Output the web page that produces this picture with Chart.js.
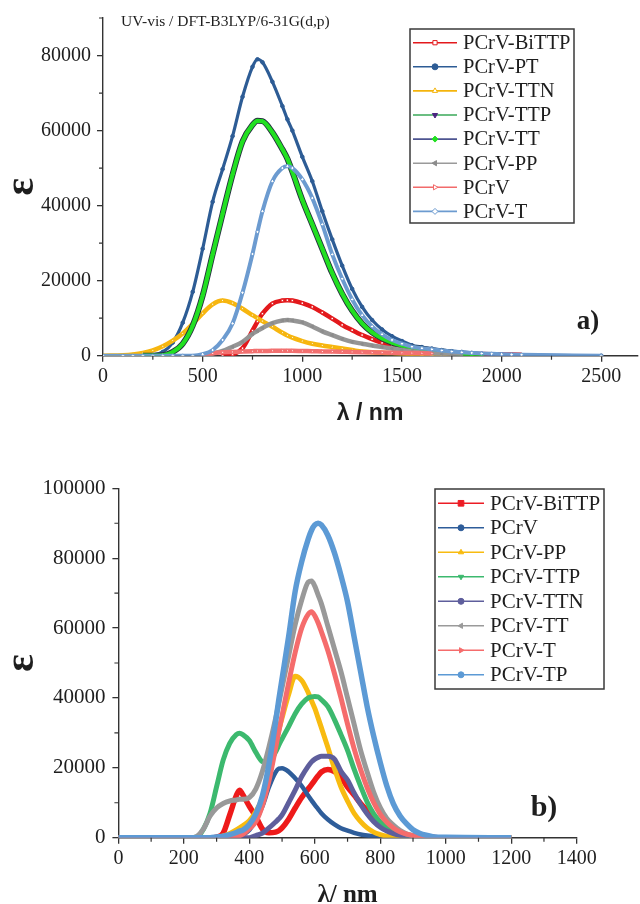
<!DOCTYPE html>
<html>
<head>
<meta charset="utf-8">
<title>UV-vis spectra</title>
<script src="https://cdn.jsdelivr.net/npm/chart.js@4.4.1/dist/chart.umd.min.js"></script>
<style>
    html, body { margin: 0; padding: 0; background: #fff; }
    .panel { position: absolute; left: 0; width: 640px; }
    #panel-a { top: 0; height: 440px; }
    #panel-b { top: 440px; height: 464px; }
</style>
</head>
<body>
<div class="panel" id="panel-a"><canvas id="chart-a" width="640" height="440"></canvas></div>
<div class="panel" id="panel-b"><canvas id="chart-b" width="640" height="464"></canvas></div>
<script>
// panel a) values, wavelength in nm, epsilon
var wavelengthA = [0, 100, 150, 200, 250, 300, 350, 400, 450, 500, 550, 600, 650, 700, 750, 775, 800, 850, 900, 925, 950, 1000, 1050, 1100, 1150, 1200, 1250, 1300, 1350, 1400, 1450, 1500, 1550, 1600, 1650, 1700, 1750, 1800, 1850, 1900, 1950, 2000, 2050, 2100, 2500];
var namesA = ['PCrV-BiTTP', 'PCrV-PT', 'PCrV-TTN', 'PCrV-TTP', 'PCrV-TT', 'PCrV-PP', 'PCrV', 'PCrV-T'];
var bittpA = [null, null, null, null, null, null, null, null, null, null, null, 0, 300, 2000, 6700, 9100, 11200, 13900, 14700, 14800, 14700, 14000, 13000, 11500, 9900, 8200, 6800, 5500, 4400, 3400, 2600, 2000, 1500, 1200, 1000, 850, 700, 600, 500, 450, 400, 350, 300, 250, null];
var ptA = [0, 0, 0, 0, 200, 1000, 3500, 8800, 17000, 28500, 41000, 49700, 58500, 69000, 77000, 79000, 78200, 73000, 66500, 63000, 60000, 53000, 46500, 38500, 31000, 24000, 17800, 13000, 9500, 7000, 5200, 3900, 2800, 2300, 1900, 1500, 1200, 1000, 750, 550, 400, 300, 200, 150, 0];
var ttnA = [0, 100, 300, 700, 1400, 2500, 4000, 5900, 8500, 11300, 13700, 14700, 14000, 12500, 10800, 10000, 9200, 7700, 6100, 5400, 4800, 3900, 3200, 2700, 2300, 1900, 1500, 1100, 900, 800, 700, 600, 450, 350, 250, 100, 0, null, null, null, null, null, null, null, null];
var ttpA = [null, null, null, 0, 0, 100, 1000, 3200, 8000, 16000, 27000, 37800, 48300, 57100, 61500, 62600, 62500, 59500, 55000, 52500, 49000, 41500, 35000, 28500, 22000, 16500, 12000, 8600, 6200, 4600, 3500, 2700, 2200, 1800, 1400, 1100, 800, 500, 200, 0, null, null, null, null, null];
var ttA = [null, null, null, 0, 0, 100, 1000, 3200, 8000, 16000, 27000, 37800, 48300, 57100, 61500, 62600, 62500, 59500, 55000, 52500, 49000, 41500, 35000, 28500, 22000, 16500, 12000, 8600, 6200, 4600, 3500, 2700, 2200, 1800, 1400, 1100, 800, 500, 200, 0, null, null, null, null, null];
var ppA = [null, null, null, null, null, null, null, null, null, 0, 600, 1300, 2400, 3700, 5800, 6600, 7400, 8700, 9400, 9500, 9400, 8900, 7800, 6500, 5500, 4500, 3700, 3200, 2700, 2300, 1900, 1500, 1100, 850, 650, 400, 200, 0, null, null, null, null, null, null, null];
var pcrvA = [null, null, null, null, null, null, null, null, null, 0, 600, 900, 1000, 1100, 1200, 1250, 1250, 1300, 1300, 1300, 1300, 1250, 1200, 1150, 1100, 1050, 1000, 950, 900, 850, 800, 750, 700, 650, 600, null, null, null, null, null, null, null, null, null, null];
var tA = [0, 0, 0, 0, 0, 0, 0, 0, 0, 400, 1500, 4200, 8600, 16800, 27100, 33000, 38500, 46500, 50000, 50500, 50000, 47000, 42000, 35000, 27000, 20500, 15000, 10800, 7800, 5700, 4200, 3200, 2400, 2000, 1700, 1400, 1100, 900, 750, 600, 500, 400, 300, 250, 0];
var xTicksA = [0, 500, 1000, 1500, 2000, 2500];
var xMinorA = [250, 750, 1250, 1750, 2250];
var yTicksA = [0, 20000, 40000, 60000, 80000];
var yMinorA = [10000, 30000, 50000, 70000, 90000];

// panel b)
var wavelengthB = [0, 200, 220, 240, 260, 280, 300, 320, 340, 360, 370, 380, 400, 420, 440, 460, 480, 490, 500, 520, 540, 560, 580, 590, 600, 610, 620, 640, 660, 680, 700, 720, 740, 760, 780, 800, 820, 840, 860, 880, 900, 920, 940, 960, 980, 1000, 1200];
var namesB = ['PCrV-BiTTP', 'PCrV', 'PCrV-PP', 'PCrV-TTP', 'PCrV-TTN', 'PCrV-TT', 'PCrV-T', 'PCrV-TP'];
var bittpB = [0, 0, 0, 0, 0, 0, 200, 1300, 6500, 12000, 13600, 12300, 9000, 6000, 2500, 1400, 1600, 2000, 2800, 5300, 8500, 11500, 14000, 15200, 16500, 17700, 18800, 19500, 18900, 17300, 14500, 12200, 9800, 7800, 5900, 4200, 2700, 1800, 1100, 700, 500, 300, 200, 100, 0, 0, 0];
var pcrvB = [0, 0, 0, 0, 0, 0, 0, 0, 0, 300, 500, 800, 2200, 5000, 9000, 14500, 18700, 19800, 19900, 18900, 17000, 14800, 12000, 10700, 9400, 8200, 7000, 5200, 3800, 2700, 2000, 1400, 900, 600, 400, 200, 100, 0, 0, 0, 0, 0, 0, 0, 0, 0, 0];
var ppB = [0, 0, 0, 0, 0, 0, 0, 500, 1200, 2200, 2800, 3400, 4900, 7500, 11500, 19000, 27000, 30800, 34300, 41000, 46200, 45000, 41500, 39200, 37000, 34300, 31500, 25800, 19800, 14500, 10500, 7000, 4600, 2800, 1600, 900, 400, 200, 100, 0, 0, 0, 0, 0, 0, 0, 0];
var ttpB = [0, 0, 0, 200, 2500, 7000, 14600, 22200, 27000, 29500, 29900, 29500, 27800, 24400, 21800, 21600, 24500, 26500, 28300, 31800, 35500, 38300, 40000, 40300, 40400, 40300, 39500, 37500, 33800, 29500, 25000, 19600, 14700, 10200, 6800, 4500, 2700, 1600, 1000, 600, 300, 100, 0, 0, 0, 0, 0];
var ttnB = [0, 0, 0, 0, 0, 0, 0, 0, 0, 0, 0, 0, 0, 600, 1300, 2800, 4500, 5400, 6500, 10000, 13600, 17500, 20500, 21700, 22500, 23000, 23300, 23300, 22500, 19000, 16500, 12800, 9500, 6800, 4600, 3000, 1900, 1200, 700, 400, 200, 0, 0, 0, 0, 0, 0];
var ttB = [0, 0, 0, 400, 2500, 6200, 8500, 9800, 10500, 10800, 11000, 11000, 11500, 14000, 19000, 26000, 34000, 38500, 43000, 52000, 61000, 68000, 73200, 73500, 72000, 69500, 67000, 60500, 54000, 47500, 40000, 32500, 25000, 18800, 13000, 8600, 5500, 3600, 2100, 1100, 600, 300, 100, 0, 0, 0, 0];
var tB = [0, 0, 0, 0, 0, 0, 0, 0, 0, 300, 600, 1000, 2600, 4600, 9200, 16300, 25600, 30400, 35000, 44300, 53000, 60000, 64000, 64700, 63500, 61500, 59000, 53500, 47000, 40000, 32500, 25500, 19500, 14300, 10000, 6700, 4400, 2800, 1700, 1000, 600, 300, 100, 0, 0, 0, 0];
var tpB = [0, 0, 0, 0, 0, 0, 200, 400, 900, 1500, 1900, 2200, 3800, 6800, 12000, 21000, 33000, 39500, 45500, 57500, 70500, 79000, 85500, 88000, 89500, 90000, 89500, 86500, 81500, 75000, 67500, 57500, 47500, 37500, 29000, 21500, 14800, 9700, 6300, 4000, 2300, 1300, 700, 300, 150, 100, 0];
var xTicksB = [0, 200, 400, 600, 800, 1000, 1200, 1400];
var xMinorB = [100, 300, 500, 700, 900, 1100, 1300];
var yTicksB = [0, 20000, 40000, 60000, 80000, 100000];
var yMinorB = [10000, 30000, 50000, 70000, 90000];

(function () {
    'use strict';

    var AXIS = '#333',
        TEXT = '#1e1e1e',
        SERIF = "'Liberation Serif', 'Times New Roman', serif",
        SANS = "'Liberation Sans', Arial, sans-serif",

        // line colour, colour in the plot, marker shape/colour
        stylesA = [
            { line: '#e3191c', plot: '#e3191c', marker: 'rect', mColor: '#e3191c', hollow: true, width: 4.5 },
            { line: '#2d5c95', plot: '#2d5c95', marker: 'circle', mColor: '#2d5c95', width: 3.2 },
            { line: '#f4b40c', plot: '#f7b60f', marker: 'triangle', mColor: '#f4b40c', hollow: true, width: 4.5 },
            { line: '#3aa859', plot: '#25303f', marker: 'triangle', rot: 180, mColor: '#4a2580', width: 6 },
            { line: '#4d5491', plot: '#22e022', marker: 'rectRot', mColor: '#22e022', width: 4.2 },
            { line: '#9a9a9a', plot: '#959595', marker: 'triangle', rot: 270, mColor: '#8c8c8c', width: 4.5 },
            { line: '#f26b6b', plot: '#f27070', marker: 'triangle', rot: 90, mColor: '#f26b6b', hollow: true, width: 4.5 },
            { line: '#6c9bd0', plot: '#6c9bd0', marker: 'rectRot', mColor: '#6c9bd0', hollow: true, width: 4 }
        ],
        stylesB = [
            { line: '#ec1c24', plot: '#ee1a1a', marker: 'rect', mColor: '#ec1c24', width: 5.5, size: 4 },
            { line: '#2e5d9a', plot: '#2e5d9a', marker: 'circle', mColor: '#2e5d9a', width: 4.5 },
            { line: '#f8bb10', plot: '#f8bb10', marker: 'triangle', mColor: '#f8bb10', width: 5 },
            { line: '#3cb96e', plot: '#3cb96e', marker: 'triangle', rot: 180, mColor: '#3cb96e', width: 5 },
            { line: '#5e5e9c', plot: '#5e5e9c', marker: 'circle', mColor: '#5e5e9c', width: 5 },
            { line: '#9a9a9a', plot: '#999999', marker: 'triangle', rot: 270, mColor: '#9a9a9a', width: 5 },
            { line: '#f56c6c', plot: '#f56c6c', marker: 'triangle', rot: 90, mColor: '#f56c6c', width: 5 },
            { line: '#5c9ad5', plot: '#5c9ad5', marker: 'circle', mColor: '#5c9ad5', width: 5.5 }
        ],

        toPoints = function (xs, ys) {
            return xs.map(function (x, i) {
                return { x: x, y: ys[i] };
            });
        },

        buildDatasets = function (xs, names, values, styles, pointRadius) {
            return names.map(function (name, i) {
                var st = styles[i];

                return {
                    label: name,
                    data: toPoints(xs, values[i]),
                    borderColor: st.plot,
                    backgroundColor: st.plot,
                    borderWidth: st.width,
                    pointStyle: st.marker,
                    pointRotation: st.rot || 0,
                    pointRadius: pointRadius,
                    pointHoverRadius: pointRadius,
                    pointBackgroundColor: st.hollow ? '#fff' : st.mColor,
                    pointBorderColor: st.mColor,
                    pointBorderWidth: 1,
                    cubicInterpolationMode: 'monotone',
                    fill: false,
                    spanGaps: false,
                    // later series sit on top, like the original plot
                    order: names.length - i,
                    legendLine: st.line,
                    legendSize: st.size || 3
                };
            });
        },

        drawMarker = function (ctx, style, radius, rotation, x, y) {
            if (Chart.helpers && Chart.helpers.drawPoint) {
                Chart.helpers.drawPoint(ctx, { pointStyle: style, radius: radius, rotation: rotation, borderWidth: 1 }, x, y);
                return;
            }
            ctx.beginPath();
            ctx.arc(x, y, radius, 0, Math.PI * 2);
            ctx.fill();
            ctx.stroke();
        },

        boxLegend = function (cfg) {
            return {
                id: 'boxLegend',
                afterDraw: function (chart) {
                    var ctx = chart.ctx,
                        mid = (cfg.lineFrom + cfg.lineTo) / 2;

                    ctx.save();
                    ctx.fillStyle = '#fff';
                    ctx.fillRect(cfg.left, cfg.top, cfg.right - cfg.left, cfg.bottom - cfg.top);
                    ctx.strokeStyle = '#3a3a3a';
                    ctx.lineWidth = 1.5;
                    ctx.strokeRect(cfg.left, cfg.top, cfg.right - cfg.left, cfg.bottom - cfg.top);

                    chart.data.datasets.forEach(function (ds, i) {
                        var y = cfg.firstRow + i * cfg.rowStep;

                        ctx.strokeStyle = ds.legendLine;
                        ctx.lineWidth = 1.6;
                        ctx.beginPath();
                        ctx.moveTo(cfg.lineFrom, y);
                        ctx.lineTo(cfg.lineTo, y);
                        ctx.stroke();

                        ctx.fillStyle = ds.pointBackgroundColor;
                        ctx.strokeStyle = ds.pointBorderColor;
                        ctx.lineWidth = 1;
                        drawMarker(ctx, ds.pointStyle, ds.legendSize, ds.pointRotation, mid, y);

                        ctx.fillStyle = TEXT;
                        ctx.font = cfg.font;
                        ctx.textAlign = 'left';
                        ctx.textBaseline = 'middle';
                        ctx.fillText(ds.label, cfg.textX, y + 1);
                    });
                    ctx.restore();
                }
            };
        },

        notes = function (items) {
            return {
                id: 'notes',
                afterDraw: function (chart) {
                    var ctx = chart.ctx;

                    ctx.save();
                    items.forEach(function (item) {
                        ctx.font = item.font;
                        ctx.fillStyle = TEXT;
                        ctx.textAlign = item.align || 'left';
                        ctx.textBaseline = 'middle';
                        ctx.fillText(item.text, item.x, item.y);
                    });
                    ctx.restore();
                }
            };
        },

        minorTicks = function (xMinor, yMinor, len) {
            return {
                id: 'minorTicks',
                afterDraw: function (chart) {
                    var ctx = chart.ctx,
                        xs = chart.scales.x,
                        ys = chart.scales.y;

                    ctx.save();
                    ctx.strokeStyle = AXIS;
                    ctx.lineWidth = 1.2;
                    ctx.beginPath();
                    xMinor.forEach(function (v) {
                        var px = xs.getPixelForValue(v);
                        ctx.moveTo(px, xs.top);
                        ctx.lineTo(px, xs.top + len);
                    });
                    yMinor.forEach(function (v) {
                        var py = ys.getPixelForValue(v);
                        ctx.moveTo(ys.right, py);
                        ctx.lineTo(ys.right - len, py);
                    });
                    ctx.stroke();
                    ctx.restore();
                }
            };
        },

        axis = function (opts) {
            return {
                type: 'linear',
                min: opts.min,
                max: opts.max,
                afterBuildTicks: function (scale) {
                    scale.ticks = opts.ticks.map(function (v) {
                        return { value: v };
                    });
                },
                afterFit: function (scale) {
                    if (opts.width) {
                        scale.width = opts.width;
                    }
                    if (opts.height) {
                        scale.height = opts.height;
                    }
                },
                border: { display: true, color: AXIS, width: 1.4 },
                grid: { drawOnChartArea: false, drawTicks: true, tickLength: 6, color: AXIS, lineWidth: 1.3 },
                ticks: {
                    autoSkip: false,
                    maxRotation: 0,
                    padding: opts.tickPad,
                    color: TEXT,
                    font: { family: SERIF, size: opts.tickSize },
                    callback: function (value) {
                        return String(value);
                    }
                },
                title: {
                    display: true,
                    text: opts.title,
                    color: TEXT,
                    font: opts.titleFont,
                    padding: opts.titlePad
                }
            };
        },

        makeChart = function (canvas, cfg) {
            return new Chart(canvas.getContext('2d'), {
                type: 'line',
                data: { datasets: cfg.datasets },
                options: {
                    responsive: false,
                    animation: false,
                    devicePixelRatio: 1,
                    events: [],
                    layout: { padding: cfg.padding },
                    plugins: {
                        legend: { display: false },
                        tooltip: { enabled: false },
                        title: { display: false }
                    },
                    scales: { x: cfg.x, y: cfg.y }
                },
                plugins: cfg.plugins
            });
        },

        init = function () {
            makeChart(document.getElementById('chart-a'), {
                datasets: buildDatasets(wavelengthA, namesA,
                    [bittpA, ptA, ttnA, ttpA, ttA, ppA, pcrvA, tA], stylesA, 1.8),
                padding: { left: 0, top: 15.8, right: 1, bottom: 0 },
                x: axis({
                    min: 0, max: 2680, ticks: xTicksA, height: 84.3, tickPad: 3, tickSize: 20,
                    title: 'λ / nm',
                    titleFont: { family: SANS, size: 23, weight: 'bold', lineHeight: 1 },
                    titlePad: { top: 0, bottom: 15 }
                }),
                y: axis({
                    min: 0, max: 90000, ticks: yTicksA, width: 103, tickPad: 6, tickSize: 20,
                    title: 'ε',
                    titleFont: { family: SERIF, size: 42, weight: 'bold', lineHeight: 1 },
                    titlePad: { top: 1.5, bottom: 0 }
                }),
                plugins: [
                    minorTicks(xMinorA, yMinorA, 4),
                    boxLegend({
                        left: 410, top: 29, right: 574, bottom: 223,
                        firstRow: 42.7, rowStep: 24.1,
                        lineFrom: 413, lineTo: 457, textX: 463,
                        font: '20.5px ' + SERIF
                    }),
                    notes([
                        { text: 'UV-vis / DFT-B3LYP/6-31G(d,p)', x: 121, y: 22, font: '15.5px ' + SERIF },
                        { text: 'a)', x: 588, y: 322, align: 'center', font: 'bold 27px ' + SERIF }
                    ])
                ]
            });

            makeChart(document.getElementById('chart-b'), {
                datasets: buildDatasets(wavelengthB, namesB,
                    [bittpB, pcrvB, ppB, ttpB, ttnB, ttB, tB, tpB], stylesB, 0),
                padding: { left: 0, top: 48.3, right: 63.3, bottom: 0 },
                x: axis({
                    min: 0, max: 1400, ticks: xTicksB, height: 66.3, tickPad: 3, tickSize: 20,
                    title: 'λ/ nm',
                    titleFont: { family: SERIF, size: 25, weight: 'bold', lineHeight: 0.7 },
                    titlePad: { top: 0, bottom: 0 }
                }),
                y: axis({
                    min: 0, max: 100000, ticks: yTicksB, width: 118.4, tickPad: 7, tickSize: 21,
                    title: 'ε',
                    titleFont: { family: SERIF, size: 42, weight: 'bold', lineHeight: 1 },
                    titlePad: { top: 1.5, bottom: 0 }
                }),
                plugins: [
                    minorTicks(xMinorB, yMinorB, 4),
                    boxLegend({
                        left: 435, top: 49, right: 604, bottom: 249,
                        firstRow: 63.3, rowStep: 24.5,
                        lineFrom: 438, lineTo: 484, textX: 490,
                        font: '21px ' + SERIF
                    }),
                    notes([
                        { text: 'b)', x: 544, y: 368, align: 'center', font: 'bold 30px ' + SERIF }
                    ])
                ]
            });
        };

    init();
}());
</script>
</body>
</html>
